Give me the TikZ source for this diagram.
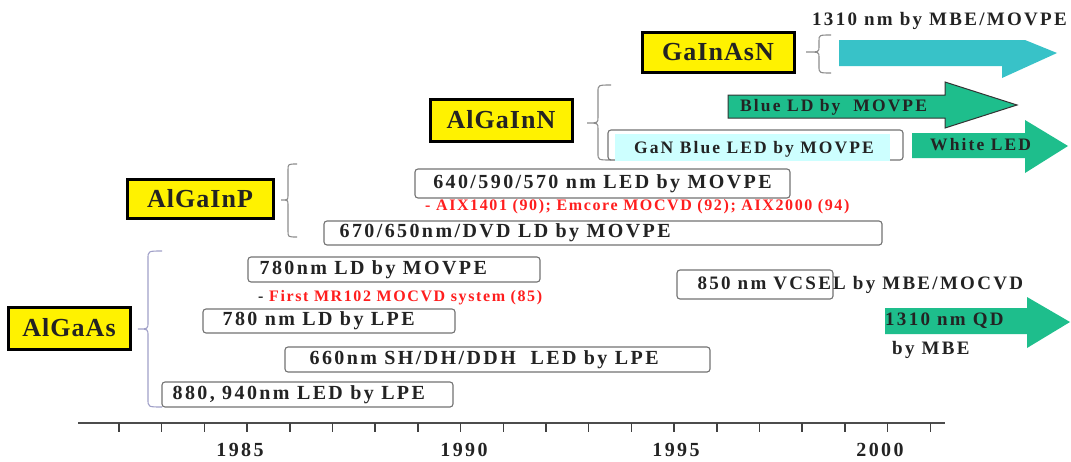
\documentclass[tikz,border=0pt]{standalone}
\usepackage{fontspec}
\setmainfont{Liberation Serif}
\newfontfamily\spf{Liberation Serif}[LetterSpace=12]
\newfontfamily\spr{Liberation Serif}[LetterSpace=10]
\newfontfamily\spy{Liberation Serif}[LetterSpace=4]
\definecolor{tx}{RGB}{35,35,35}
\definecolor{redt}{RGB}{255,30,30}
\definecolor{teal1}{RGB}{56,194,200}
\definecolor{green1}{RGB}{30,190,140}
\definecolor{cyanl}{RGB}{205,255,255}
\definecolor{brgray}{RGB}{140,140,140}
\definecolor{brlav}{RGB}{160,160,200}
\tikzset{
  ybox/.style={draw=black, line width=3pt, fill=yellow, inner sep=0pt, text=tx,
    font=\spy\bfseries\fontsize{26}{28}\selectfont},
  gbox/.style={draw=black!55, line width=1.1pt, rounded corners=3pt, inner sep=0pt},
  txt/.style={inner sep=0pt, text=tx, font=\spf\bfseries\fontsize{20}{22}\selectfont},
  txtm/.style={inner sep=0pt, text=tx, font=\spf\bfseries\fontsize{19}{21}\selectfont},
  txts/.style={inner sep=0pt, text=tx, font=\spf\bfseries\fontsize{17.5}{19}\selectfont},
  rtxt/.style={inner sep=0pt, text=redt, font=\spr\bfseries\fontsize{16}{18}\selectfont},
  brc/.style={draw=brgray, line width=1.1pt},
  axisline/.style={draw=black!70, line width=2pt},
  tick/.style={draw=black!75, line width=1.5pt}
}
\begin{document}
\begin{tikzpicture}[x=1pt,y=-1pt]
\useasboundingbox[fill=white] (0,0) rectangle (1071,461);

% yellow material boxes
\node[ybox, minimum width=152, minimum height=40] (gainasn) at (718,52) {GaInAsN};
\node[ybox, minimum width=142, minimum height=42] (algainn) at (501,120) {AlGaInN};
\node[ybox, minimum width=146, minimum height=39] (algainp) at (200,198.5) {AlGaInP};
\node[ybox, minimum width=122, minimum height=42] (algaas) at (69,328) {AlGaAs};

% braces
\draw[brc] (831,35) .. controls (819,35) .. (819,41) -- (819,47) .. controls (819,52) .. (806,52) .. controls (819,52) .. (819,57) -- (819,66) .. controls (819,73) .. (831,73);
\draw[brc] (611,85) .. controls (598,85) .. (598,92) -- (598,117) .. controls (598,123) .. (587,123) .. controls (598,123) .. (598,129) -- (598,153) .. controls (598,160) .. (611,160);
\draw[brc] (297,164) .. controls (288,164) .. (288,170) -- (288,195) .. controls (288,200) .. (281,200) .. controls (288,200) .. (288,205) -- (288,231) .. controls (288,237) .. (297,237);
\draw[brc, draw=brlav] (162,251) .. controls (148,251) .. (148,259) -- (148,322) .. controls (148,329) .. (138,329) .. controls (148,329) .. (148,336) -- (148,399) .. controls (148,407) .. (162,407);

% GaInAsN arrow
\fill[teal1] (839,40) -- (1025,40) -- (1057,53) -- (1002,78) -- (1002,66) -- (839,66) -- cycle;
\node[txtm, anchor=west] (t1310a) at (812,21) {1310 nm by MBE/MOVPE};

% AlGaInN
\filldraw[fill=green1, draw=black!80, line width=1pt] (728,95) -- (945,95) -- (945,82) -- (1017,105) -- (945,128) -- (945,118) -- (728,118) -- cycle;
\node[txts, anchor=west] (tblue) at (740,107) {Blue LD by\ \ MOVPE};
\node[gbox, minimum width=295, minimum height=30] (bgan) at (755.5,145) {};
\fill[cyanl] (615,134) rectangle (890,161);
\node[txts] (tgan) at (754,149) {GaN Blue LED by MOVPE};
\fill[green1] (912,133) -- (1025,133) -- (1025,120) -- (1068,146) -- (1025,173) -- (1025,158) -- (912,158) -- cycle;
\node[txts, anchor=west] (twhite) at (930,145) {White LED};

% AlGaInP
\node[gbox, minimum width=375, minimum height=29] (b640) at (602.5,183.5) {};
\node[txt] (t640) at (b640.center) {640/590/570 nm LED by MOVPE};
\node[rtxt, anchor=west] (raix) at (425,207) {- AIX1401 (90); Emcore MOCVD (92); AIX2000 (94)};
\node[gbox, minimum width=558, minimum height=24] (b670) at (603,233) {};
\node[txt, anchor=west] (t670) at ([xshift=16]b670.west) {670/650nm/DVD LD by MOVPE};

% AlGaAs
\node[gbox, minimum width=292, minimum height=25] (b780m) at (394,269.5) {};
\node[txt, anchor=west] (t780m) at ([xshift=12]b780m.west) {780nm LD by MOVPE};
\node[rtxt, anchor=west] (rmr) at (258,298) {\textcolor{tx}{-} First MR102 MOCVD system (85)};
\node[gbox, minimum width=252, minimum height=24] (b780l) at (329,321) {};
\node[txt, anchor=west] (t780l) at ([xshift=20]b780l.west) {780 nm LD by LPE};
\node[gbox, minimum width=425, minimum height=25] (b660) at (497.5,359.5) {};
\node[txt, anchor=west] (t660) at ([xshift=25]b660.west) {660nm SH/DH/DDH\ \ LED by LPE};
\node[gbox, minimum width=291, minimum height=25] (b880) at (307.5,394.5) {};
\node[txt, anchor=west] (t880) at ([xshift=11]b880.west) {880, 940nm LED by LPE};
\node[gbox, minimum width=156, minimum height=29] (bvcsel) at (755,284.5) {};
\node[txtm, anchor=west] (tvcsel) at ([xshift=21]bvcsel.west) {850 nm VCSEL by MBE/MOCVD};
\fill[green1] (885,308) -- (1027,308) -- (1027,297) -- (1070,322) -- (1027,348) -- (1027,334) -- (885,334) -- cycle;
\node[txtm, anchor=west] (tqd) at (885,321) {1310 nm QD};
\node[txtm, anchor=west] (tqd2) at (892,350) {by MBE};

% time axis
\draw[axisline] (78,423) -- (945,423);
\foreach \yr in {0,...,19} {
  \draw[tick] ({119+\yr*42.7},423) -- ({119+\yr*42.7},432);
}
\node[txt] (y85) at (240,450) {1985};
\node[txt] (y90) at (464,450) {1990};
\node[txt] (y95) at (676,450) {1995};
\node[txt] (y00) at (880,450) {2000};
\end{tikzpicture}
\end{document}
